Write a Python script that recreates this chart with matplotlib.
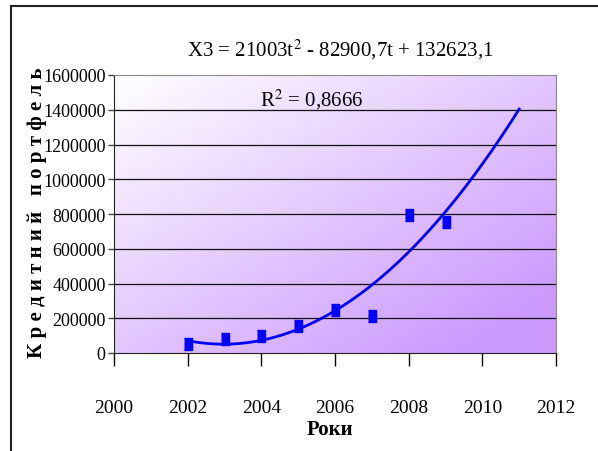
import numpy as np
import matplotlib.pyplot as plt

plt.rcParams['font.family'] = ['Liberation Serif', 'DejaVu Serif']

# data
years = [2002, 2003, 2004, 2005, 2006, 2007, 2008, 2009]
portfolio = [52000, 80000, 100000, 157000, 249000, 215000, 796000, 752000]

# trend line coefficients shown on the chart (t = year - 2001)
coef_a, coef_b, coef_c = 21003, -82900.7, 132623.1
trend_years = np.linspace(2002, 2011, 60)

xticks = [2000, 2002, 2004, 2006, 2008, 2010, 2012]
yticks = [0, 200000, 400000, 600000, 800000, 1000000, 1200000, 1400000, 1600000]

fig = plt.figure(figsize=(5.98, 4.52), dpi=100)

# outer frame
fig.add_artist(plt.Rectangle((11/598, -0.1), 1.2, 1 - 7/452 + 0.1, transform=fig.transFigure,
                             fill=False, edgecolor='#222222', linewidth=1.5))

ax = fig.add_axes([114/598, 1 - 354/452, 442/598, 278/452])

# white -> purple diagonal gradient
gx, gy = np.meshgrid(np.linspace(0, 1, 200), np.linspace(1, 0, 200))
g = np.clip((gx + (1 - gy)) / 1.8, 0, 1)
c0 = np.array([1.0, 1.0, 1.0])
c1 = np.array([0.8, 0.6, 1.0])
img = c0 + (c1 - c0) * g[..., None]
ax.imshow(img, extent=[0, 1, 0, 1], transform=ax.transAxes, aspect='auto', zorder=0)

for yv in yticks[1:-1]:
    ax.axhline(yv, color='#111111', linewidth=0.9, zorder=1)

t = trend_years - 2001
ax.plot(trend_years, coef_a * t**2 + coef_b * t + coef_c, color='#0000ff', linewidth=2, zorder=3)

rect = [(-0.3, -0.5), (0.3, -0.5), (0.3, 0.5), (-0.3, 0.5)]
ax.plot(years, portfolio, linestyle='none', marker=rect, markersize=8.5,
        color='#0000ff', zorder=4)

ax.set_xlim(2000, 2012)
ax.set_ylim(0, 1600000)
ax.set_xticks(xticks)
ax.set_yticks(yticks)
ax.set_xticklabels([str(v) for v in xticks], fontsize=14)
ax.set_yticklabels([str(v) for v in yticks], fontsize=13)
ax.tick_params(axis='x', direction='out', length=9, width=1, pad=24)
ax.tick_params(axis='y', direction='out', length=4, width=1, pad=2, color='#444444')

for s in ['top', 'right']:
    ax.spines[s].set_color('#888888')
for s in ['left', 'bottom']:
    ax.spines[s].set_color('#222222')

fig.text(37/598, 1 - 213/452, 'К р е д и т н и й   п о р т ф е л ь', rotation=90,
         ha='center', va='center', fontsize=15, fontweight='bold')
fig.text(330/598, 1 - 430/452, 'Роки', ha='center', va='center', fontsize=15, fontweight='bold')

fig.text(340/598, 1 - 50/452, 'X3 = 21003t$^2$ - 82900,7t + 132623,1', ha='center', va='center',
         fontsize=15, math_fontfamily='stix')
fig.text(312/598, 1 - 100/452, 'R$^2$ = 0,8666', ha='center', va='center', fontsize=15,
         math_fontfamily='stix')

fig.savefig('out.png', dpi=100)
